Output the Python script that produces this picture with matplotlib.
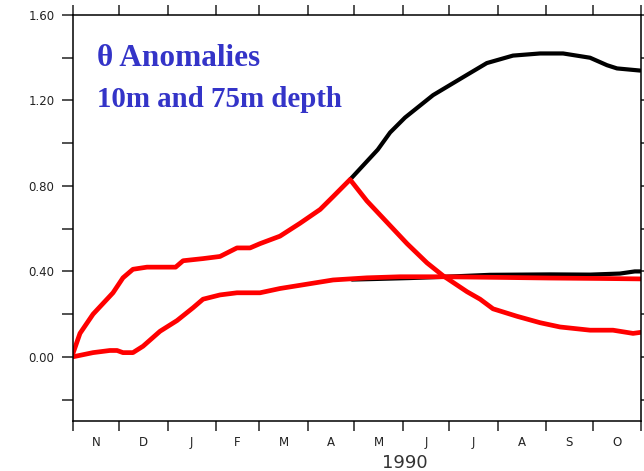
import numpy as np
import matplotlib
matplotlib.use("Agg")
import matplotlib.pyplot as plt

# days since 1 Nov 1989
months = ["N", "D", "J", "F", "M", "A", "M", "J", "J", "A", "S", "O"]
month_len = [30, 31, 31, 28, 31, 30, 31, 30, 31, 31, 30, 31]

# 10m, red (observed)
red10_day = [0, 4.8, 13.2, 19.6, 26, 32.4, 38.8, 47.8, 60.7, 66.2, 71, 83.8, 94.7,
             105.6, 114, 120.4, 133.2, 146, 159, 167.3, 178.2, 189, 201.9, 214.8,
             227.6, 237.9, 253.3, 261.7, 270, 285.4, 300.2, 313, 332.3, 347, 359.9, 365]
red10_val = [0.01, 0.11, 0.20, 0.25, 0.30, 0.37, 0.41, 0.42, 0.42, 0.42, 0.45, 0.46, 0.47,
             0.51, 0.51, 0.53, 0.565, 0.625, 0.69, 0.75, 0.83, 0.73, 0.63, 0.53,
             0.44, 0.38, 0.305, 0.27, 0.225, 0.19, 0.16, 0.14, 0.125, 0.125, 0.11, 0.115]

# 10m, black
blk10_day = [178.2, 179.5, 196, 203.9, 213.5, 231.5, 253.3, 266, 282.8, 300.2, 315,
             332.3, 343.2, 349.6, 364.4]
blk10_val = [0.83, 0.84, 0.97, 1.05, 1.12, 1.225, 1.32, 1.375, 1.41, 1.42, 1.42,
             1.40, 1.365, 1.35, 1.34]

# 75m, red
red75_day = [0, 13.2, 24, 28.6, 32.4, 38.8, 45.3, 56.2, 67.1, 77.4, 83.8, 94.7, 105.6,
             120.4, 133.2, 146, 167.3, 189, 210.3, 237.9, 274.5, 306.6, 338.7, 365]
red75_val = [0.00, 0.02, 0.03, 0.03, 0.02, 0.02, 0.05, 0.12, 0.17, 0.23, 0.27, 0.29, 0.30,
             0.30, 0.32, 0.335, 0.36, 0.37, 0.375, 0.375, 0.372, 0.369, 0.367, 0.365]

# 75m, black
blk75_day = [179.5, 191, 216.7, 236, 268, 306.6, 332.3, 351.5, 361, 365]
blk75_val = [0.362, 0.364, 0.369, 0.374, 0.384, 0.386, 0.385, 0.39, 0.40, 0.40]

fig = plt.figure(figsize=(6.44, 4.71), dpi=100)
ax = fig.add_axes([72.5 / 644, 1 - 421 / 471, 568.5 / 644, 406 / 471])

ax.plot(blk10_day, blk10_val, color="black", lw=3.0, solid_capstyle="round")
ax.plot(blk75_day, blk75_val, color="black", lw=3.0, solid_capstyle="round")
ax.plot(red10_day, red10_val, color="#ff0000", lw=3.4, solid_capstyle="round")
ax.plot(red75_day, red75_val, color="#ff0000", lw=3.4, solid_capstyle="round")

ax.set_xlim(0, 365)
ax.set_ylim(-0.3, 1.6)

edges = np.concatenate([[0], np.cumsum(month_len)])
mids = (edges[:-1] + edges[1:]) / 2
ax.set_xticks(edges)
ax.set_xticklabels([])
ax.set_xticks(mids, minor=True)
ax.set_xticklabels(months, minor=True)

ax.set_yticks([0.0, 0.4, 0.8, 1.2, 1.6])
ax.set_yticklabels(["0.00", "0.40", "0.80", "1.20", "1.60"])
ax.set_yticks([-0.2, 0.2, 0.6, 1.0, 1.4], minor=True)

for s in ax.spines.values():
    s.set_linewidth(1.1)

ax.tick_params(which="both", direction="out", length=8, width=1.1,
               top=True, right=True, labelsize=8.5, colors="#222222", pad=5)
ax.tick_params(axis="x", which="major", length=7)
ax.tick_params(axis="x", which="minor", length=0, pad=11, top=False)

ax.text(213.5, -0.521, "1990", ha="center", va="baseline", fontsize=13,
        color="#333333", clip_on=False)

fig.text(97 / 644, 1 - 66 / 471, "θ Anomalies", family="Liberation Serif",
         weight="bold", fontsize=22.5, color="#3434c8", va="baseline")
fig.text(97 / 644, 1 - 107 / 471, "10m and 75m depth", family="Liberation Serif",
         weight="bold", fontsize=20.8, color="#3434c8", va="baseline")

fig.savefig("out.png", dpi=100)
